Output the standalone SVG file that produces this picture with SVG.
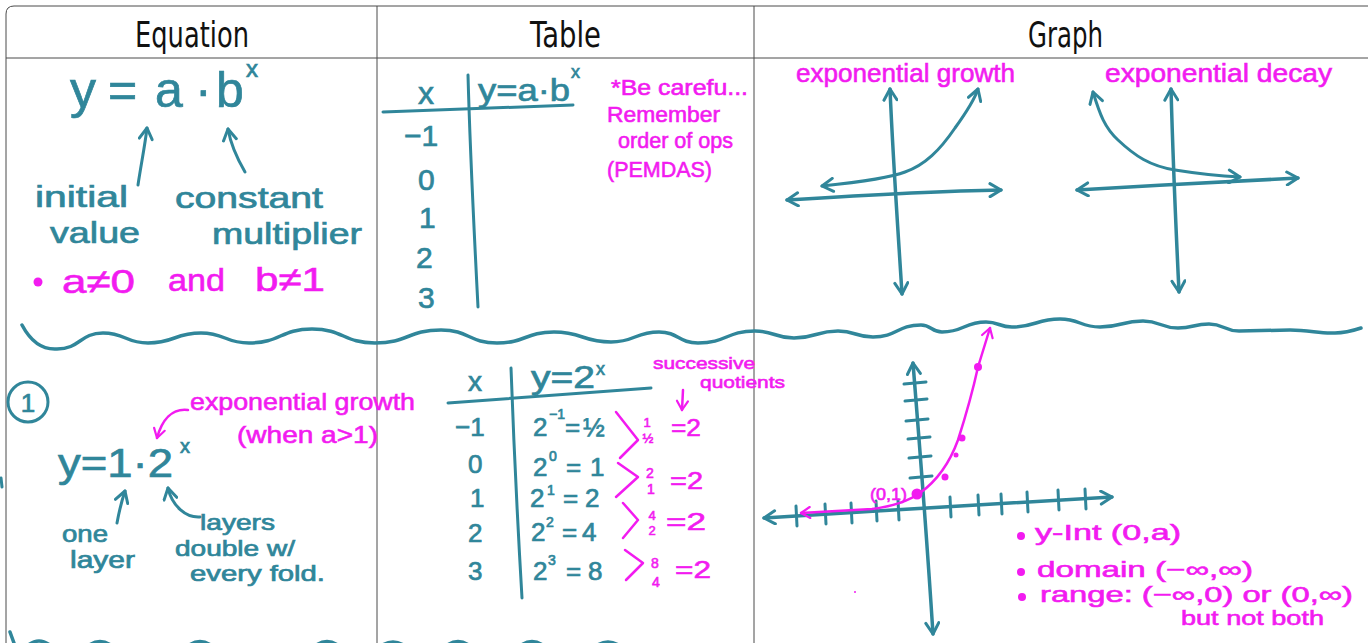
<svg xmlns="http://www.w3.org/2000/svg" width="1368" height="643" viewBox="0 0 1368 643">
<style>
.grid{stroke:#4a4a4a;stroke-width:1;fill:none}
.hd{font-family:"DejaVu Sans","Liberation Sans",sans-serif;font-size:36px;fill:#111}
.t{fill:#30869a;font-family:"Liberation Sans","Open Sans",sans-serif;stroke:#30869a;stroke-width:0.7}
.m{fill:#f21bf0;font-family:"Liberation Sans","Open Sans",sans-serif;stroke:#f21bf0;stroke-width:0.6}
.ln{stroke:#30869a;fill:none;stroke-width:3.5;stroke-linecap:round;stroke-linejoin:round}
.ln3{stroke:#30869a;fill:none;stroke-width:3;stroke-linecap:round;stroke-linejoin:round}
.mln{stroke:#f21bf0;fill:none;stroke-width:2.5;stroke-linecap:round;stroke-linejoin:round}
.mdot{fill:#f21bf0}
</style>
<defs>
<marker id="ta" markerUnits="userSpaceOnUse" viewBox="0 0 16 16" markerWidth="16" markerHeight="16" refX="14" refY="8" orient="auto-start-reverse">
<path d="M3,1.5 L14,8 L3,14.5" fill="none" stroke="#30869a" stroke-width="3" stroke-linecap="round" stroke-linejoin="round"/>
</marker>
<marker id="ma" markerUnits="userSpaceOnUse" viewBox="0 0 14 14" markerWidth="14" markerHeight="14" refX="12" refY="7" orient="auto-start-reverse">
<path d="M3,1.5 L12,7 L3,12.5" fill="none" stroke="#f21bf0" stroke-width="2.2" stroke-linecap="round" stroke-linejoin="round"/>
</marker>
</defs>
<rect width="1368" height="643" fill="#ffffff"/>

<g id="grid">
<path class="grid" d="M6,643 V14 Q6,6 14,6 H1368"/>
<path class="grid" d="M6,58 H1368"/>
<path class="grid" d="M377,6 V643"/>
<path class="grid" d="M754,6 V643"/>
</g>

<g id="headers">
<text class="hd" x="135" y="47" textLength="114" lengthAdjust="spacingAndGlyphs">Equation</text>
<text class="hd" x="530" y="47" textLength="71" lengthAdjust="spacingAndGlyphs">Table</text>
<text class="hd" x="1028" y="47" textLength="75" lengthAdjust="spacingAndGlyphs">Graph</text>
</g>

<g id="equation-general">
<text class="t" x="70" y="107" font-size="52">y</text>
<text class="t" x="108" y="107" font-size="50">=</text>
<text class="t" x="155" y="107" font-size="50">a</text>
<text class="t" x="195" y="107" font-size="50">·</text>
<text class="t" x="216" y="107" font-size="50">b</text>
<text class="t" x="246" y="77" font-size="24">x</text>
<path class="ln3" d="M138,185 C141,165 145,145 147,128" marker-end="url(#ta)"/>
<path class="ln3" d="M245,172 C238,160 231,146 228,129" marker-end="url(#ta)"/>
<text class="t" x="35" y="207" font-size="30" textLength="93" lengthAdjust="spacingAndGlyphs">initial</text>
<text class="t" x="50" y="243" font-size="30" textLength="90" lengthAdjust="spacingAndGlyphs">value</text>
<text class="t" x="175" y="208" font-size="30" textLength="148" lengthAdjust="spacingAndGlyphs">constant</text>
<text class="t" x="212" y="244" font-size="30" textLength="150" lengthAdjust="spacingAndGlyphs">multiplier</text>
<circle class="mdot" cx="38" cy="282" r="4.5"/>
<text class="m" x="62" y="293" font-size="34" textLength="73" lengthAdjust="spacingAndGlyphs">a≠0</text>
<text class="m" x="168" y="291" font-size="32" textLength="57" lengthAdjust="spacingAndGlyphs">and</text>
<text class="m" x="255" y="291" font-size="34" textLength="70" lengthAdjust="spacingAndGlyphs">b≠1</text>
</g>

<g id="table-general">
<text class="t" x="418" y="104" font-size="32">x</text>
<path class="ln3" d="M468,75 C470,150 474,230 478,307"/>
<path class="ln3" d="M383,112 L573,105"/>
<text class="t" x="478" y="101" font-size="32" textLength="92" lengthAdjust="spacingAndGlyphs">y=a·b</text>
<text class="t" x="571" y="78" font-size="18">x</text>
<text class="t" x="404" y="146" font-size="30">−1</text>
<text class="t" x="418" y="190" font-size="30">0</text>
<text class="t" x="419" y="228" font-size="30">1</text>
<text class="t" x="416" y="268" font-size="30">2</text>
<text class="t" x="418" y="308" font-size="30">3</text>
<text class="m" x="611" y="95" font-size="22" textLength="137" lengthAdjust="spacingAndGlyphs">*Be carefu...</text>
<text class="m" x="607" y="122" font-size="22" textLength="113" lengthAdjust="spacingAndGlyphs">Remember</text>
<text class="m" x="618" y="148" font-size="22" textLength="115" lengthAdjust="spacingAndGlyphs">order of ops</text>
<text class="m" x="607" y="177" font-size="22" textLength="105" lengthAdjust="spacingAndGlyphs">(PEMDAS)</text>
</g>

<g id="graph-growth">
<text class="m" x="796" y="82" font-size="26" textLength="219" lengthAdjust="spacingAndGlyphs">exponential growth</text>
<path class="ln" d="M890,89 C893,160 898,230 902,294" marker-start="url(#ta)" marker-end="url(#ta)"/>
<path class="ln" d="M787,200 C850,196 930,191 1001,190" marker-start="url(#ta)" marker-end="url(#ta)"/>
<path class="ln3" d="M822,186 C860,182 890,178 905,172 C925,165 940,150 955,128 C968,110 975,98 978,89" marker-start="url(#ta)" marker-end="url(#ta)"/>
</g>

<g id="graph-decay">
<text class="m" x="1105" y="82" font-size="26" textLength="227" lengthAdjust="spacingAndGlyphs">exponential decay</text>
<path class="ln" d="M1171,89 C1173,160 1176,230 1179,292" marker-start="url(#ta)" marker-end="url(#ta)"/>
<path class="ln" d="M1077,190 C1150,186 1230,181 1298,178" marker-start="url(#ta)" marker-end="url(#ta)"/>
<path class="ln3" d="M1093,92 C1100,115 1105,128 1118,140 C1135,156 1150,166 1175,170 C1200,174 1220,176 1240,177" marker-start="url(#ta)" marker-end="url(#ta)"/>
</g>

<g id="divider">
<path class="ln" d="M22,325 C30,340 42,350 57,349 C80,349 80,333 103,333 C125.5,333 125.5,343 148,343 C174.5,343 174.5,333 201,333 C225,333 225,343 249,343 C280.5,343 280.5,329 312,329 C343.5,329 343.5,343 375,343 C408,343 408,330 441,330 C469,330 469,343 497,343 C525.5,343 525.5,332 554,332 C582.5,332 582.5,342 611,342 C635,342 635,332 659,332 C678.5,332 678.5,343 698,343 C726.5,343 726.5,331 755,331 C774.5,331 774.5,338 794,338 C816,338 816,331 838,331 C855.5,331 855.5,337 873,337 C897,337 897,325 921,325 C931.5,325 931.5,332 942,332 C964,332 964,322 986,322 C999,322 999,327 1012,327 C1036,327 1036,319 1060,319 C1080,319 1080,327 1100,327 C1121.5,327 1121.5,321 1143,321 C1160.5,321 1160.5,328 1178,328 C1193.5,328 1193.5,324 1209,324 C1224,324 1224,331 1239,331 L1290,330 C1310,330 1320,334 1335,333 C1345,333 1355,330 1361,328"/>
<path class="ln" d="M10,632 L14,643 M27,646 Q39,636 51,646 M88,646 Q100,637 112,646 M188,646 Q200,637 212,646 M315,646 Q327,637 339,646 M381,646 Q393,638 405,646 M446,646 Q458,637 470,646 M520,646 Q532,637 544,646 M596,646 Q608,638 620,646"/>
<path class="ln3" d="M1,478 L2,487"/>
</g>

<g id="equation-example">
<circle cx="28" cy="402" r="20" fill="none" stroke="#30869a" stroke-width="3"/>
<text class="t" x="28" y="412" font-size="26" text-anchor="middle">1</text>
<text class="t" x="58" y="477" font-size="40" textLength="115" lengthAdjust="spacingAndGlyphs">y=1·2</text>
<text class="t" x="180" y="453" font-size="20">x</text>
<path class="ln3" d="M117,523 C119,512 122,500 125,491" marker-end="url(#ta)"/>
<path class="ln3" d="M200,517 C186,518 172,506 168,488" marker-end="url(#ta)"/>
<text class="t" x="62" y="542" font-size="23" textLength="46" lengthAdjust="spacingAndGlyphs">one</text>
<text class="t" x="70" y="568" font-size="23" textLength="65" lengthAdjust="spacingAndGlyphs">layer</text>
<text class="t" x="200" y="530" font-size="22" textLength="75" lengthAdjust="spacingAndGlyphs">layers</text>
<text class="t" x="175" y="556" font-size="22" textLength="120" lengthAdjust="spacingAndGlyphs">double w/</text>
<text class="t" x="190" y="581" font-size="22" textLength="135" lengthAdjust="spacingAndGlyphs">every fold.</text>
<text class="m" x="190" y="410" font-size="24" textLength="225" lengthAdjust="spacingAndGlyphs">exponential growth</text>
<text class="m" x="237" y="443" font-size="24" textLength="141" lengthAdjust="spacingAndGlyphs">(when a&gt;1)</text>
<path class="mln" d="M188,410 C172,408 162,420 157,438" marker-end="url(#ma)"/>
</g>

<g id="table-example">
<text class="t" x="468" y="391" font-size="28">x</text>
<path class="ln3" d="M511,368 C514,450 518,530 522,598"/>
<path class="ln3" d="M448,403 L651,388"/>
<text class="t" x="531" y="388" font-size="32" textLength="64" lengthAdjust="spacingAndGlyphs">y=2</text>
<text class="t" x="596" y="375" font-size="18">x</text>
<text class="t" x="455" y="436" font-size="26">−1</text>
<text class="t" x="468" y="473" font-size="26">0</text>
<text class="t" x="470" y="507" font-size="26">1</text>
<text class="t" x="468" y="542" font-size="26">2</text>
<text class="t" x="468" y="580" font-size="26">3</text>
<text class="t" x="533" y="436" font-size="26">2</text>
<text class="t" x="549" y="419" font-size="14">−1</text>
<text class="t" x="565" y="436" font-size="26">=</text>
<text class="t" x="583" y="436" font-size="26">½</text>
<text class="t" x="533" y="476" font-size="26">2</text>
<text class="t" x="549" y="461" font-size="14">0</text>
<text class="t" x="566" y="476" font-size="26">=</text>
<text class="t" x="590" y="476" font-size="26">1</text>
<text class="t" x="530" y="507" font-size="26">2</text>
<text class="t" x="547" y="495" font-size="14">1</text>
<text class="t" x="563" y="507" font-size="26">=</text>
<text class="t" x="585" y="507" font-size="26">2</text>
<text class="t" x="531" y="541" font-size="26">2</text>
<text class="t" x="546" y="527" font-size="14">2</text>
<text class="t" x="562" y="541" font-size="26">=</text>
<text class="t" x="582" y="541" font-size="26">4</text>
<text class="t" x="533" y="580" font-size="26">2</text>
<text class="t" x="548" y="565" font-size="14">3</text>
<text class="t" x="566" y="580" font-size="26">=</text>
<text class="t" x="588" y="580" font-size="26">8</text>
<text class="m" x="653" y="369" font-size="17" textLength="102" lengthAdjust="spacingAndGlyphs">successive</text>
<text class="m" x="700" y="388" font-size="17" textLength="85" lengthAdjust="spacingAndGlyphs">quotients</text>
<path class="mln" d="M683,390 L682,410" marker-end="url(#ma)"/>
<polyline class="mln" points="616,412 638,440 620,458"/>
<polyline class="mln" points="618,463 638,477 616,497"/>
<polyline class="mln" points="623,503 638,520 623,538"/>
<polyline class="mln" points="625,550 643,563 626,580"/>
<text class="m" x="647" y="427" font-size="13" text-anchor="middle">1</text>
<text class="m" x="648" y="443" font-size="13" text-anchor="middle">½</text>
<text class="m" x="671" y="436" font-size="24" textLength="30" lengthAdjust="spacingAndGlyphs">=2</text>
<text class="m" x="650" y="478" font-size="14" text-anchor="middle">2</text>
<text class="m" x="651" y="494" font-size="14" text-anchor="middle">1</text>
<text class="m" x="670" y="489" font-size="24" textLength="33" lengthAdjust="spacingAndGlyphs">=2</text>
<text class="m" x="652" y="520" font-size="13" text-anchor="middle">4</text>
<text class="m" x="652" y="535" font-size="13" text-anchor="middle">2</text>
<text class="m" x="666" y="530" font-size="24" textLength="40" lengthAdjust="spacingAndGlyphs">=2</text>
<text class="m" x="655" y="568" font-size="14" text-anchor="middle">8</text>
<text class="m" x="656" y="587" font-size="14" text-anchor="middle">4</text>
<text class="m" x="675" y="578" font-size="24" textLength="36" lengthAdjust="spacingAndGlyphs">=2</text>
</g>

<g id="graph-example">
<path class="ln" d="M913,363 C920,450 927,540 933,634" marker-start="url(#ta)" marker-end="url(#ta)"/>
<path class="ln" d="M764,518 C880,511 1000,503 1112,497" marker-start="url(#ta)" marker-end="url(#ta)"/>
<path class="ln3" d="M904,384 L926,382 M905,401 L927,399 M906,421 L928,419 M908,439 L930,437 M909,458 L931,456 M910,478 L932,476"/>
<path class="ln3" d="M796,506 L797,526 M825,504 L826,524 M851,503 L852,523 M876,501 L877,521 M898,500 L899,520 M950,497 L951,517 M978,495 L979,515 M1001,494 L1002,514 M1027,492 L1028,512 M1058,490 L1059,510 M1085,489 L1086,509"/>
<path class="mln" d="M801,513 L872,509 C895,506 910,500 920,493 C938,480 950,462 958,440 C966,415 973,390 978,367 L990,328" marker-start="url(#ma)" marker-end="url(#ma)"/>
<circle class="mdot" cx="917" cy="494" r="5.5"/>
<circle class="mdot" cx="945" cy="477" r="3.5"/>
<circle class="mdot" cx="956" cy="455" r="2.5"/>
<circle class="mdot" cx="962" cy="438" r="3.5"/>
<circle class="mdot" cx="978" cy="367" r="4"/>
<circle class="mdot" cx="855" cy="592" r="1"/>
<text class="m" x="870" y="500" font-size="16" textLength="37" lengthAdjust="spacingAndGlyphs">(0,1)</text>
<circle class="mdot" cx="1021" cy="536" r="4"/>
<text class="m" x="1035" y="540" font-size="22" textLength="146" lengthAdjust="spacingAndGlyphs">y-Int (0,a)</text>
<circle class="mdot" cx="1021" cy="572" r="4"/>
<text class="m" x="1037" y="577" font-size="22" textLength="216" lengthAdjust="spacingAndGlyphs">domain (−∞,∞)</text>
<circle class="mdot" cx="1022" cy="597" r="4"/>
<text class="m" x="1040" y="602" font-size="22" textLength="313" lengthAdjust="spacingAndGlyphs">range: (−∞,0) or (0,∞)</text>
<text class="m" x="1181" y="625" font-size="20" textLength="143" lengthAdjust="spacingAndGlyphs">but not both</text>
</g>
</svg>
